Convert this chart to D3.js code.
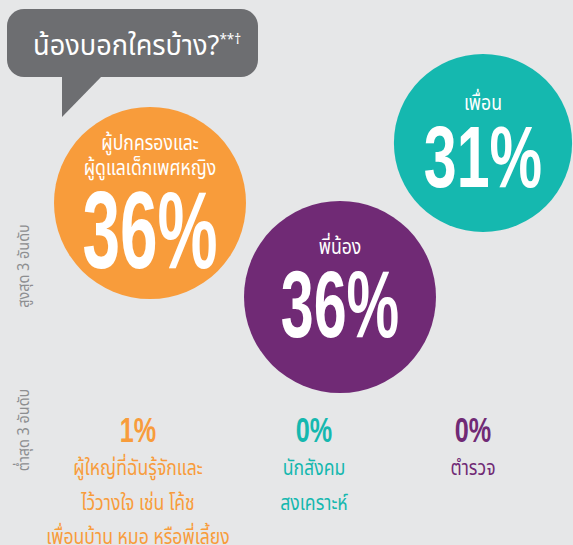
<!DOCTYPE html>
<html>
<head>
<meta charset="utf-8">
<script src="https://cdn.jsdelivr.net/npm/d3@7/dist/d3.min.js"></script>
<style>
  html, body { margin: 0; padding: 0; background: #e6e7e8; }
  svg { display: block; }
</style>
</head>
<body>
<script>
// Who the children told: top three and bottom three confidants
const topCategories = [["ผู้ปกครองและ", "ผู้ดูแลเด็กเพศหญิง"], ["พี่น้อง"], ["เพื่อน"]];
const topValues = [36, 36, 31];
const topColors = ["#f89c3b", "#702a75", "#15b8af"];

const bottomCategories = [["ผู้ใหญ่ที่ฉันรู้จักและ", "ไว้วางใจ เช่น โค้ช", "เพื่อนบ้าน หมอ หรือพี่เลี้ยง"], ["นักสังคม", "สงเคราะห์"], ["ตำรวจ"]];
const bottomValues = [1, 0, 0];
const bottomColors = ["#f89c3b", "#15b8af", "#702a75"];

const title = "น้องบอกใครบ้าง?";
const titleMark = "**†";
const rowLabels = ["สูงสุด 3 อันดับ", "ต่ำสุด 3 อันดับ"];

// Layout of the bubbles (centres) and their text offsets
const bubbleLayout = [
  { cx: 150, cy: 203, labelY: [-53, -28], numY: 65, numSize: 109, numSX: 0.62 },
  { cx: 340, cy: 297, labelY: [-43], numY: 40, numSize: 94, numSX: 0.63 },
  { cx: 483, cy: 143, labelY: [-33], numY: 44, numSize: 87, numSX: 0.68 }
];
const bottomX = [138, 314, 473];

const W = 573, H = 545;
const thai = "'Noto Sans Thai', 'Noto Sans', 'DejaVu Sans', sans-serif";
const numFont = "'Liberation Sans', Arial, sans-serif";
const thaiSX = 0.84;   // narrow Thai lettering

const svg = d3.select("body").append("svg").attr("width", W).attr("height", H);
svg.append("rect").attr("width", W).attr("height", H).attr("fill", "#e6e7e8");

// Circle area proportional to percentage
const r = d3.scaleSqrt().domain([0, 36]).range([0, 96]);

// Speech bubble
const bubble = svg.append("g");
bubble.append("rect").attr("x", 7).attr("y", 9).attr("width", 251).attr("height", 68)
  .attr("rx", 17).attr("fill", "#6d6e71");
bubble.append("path").attr("d", "M62,76 L102,76 L62,117 Z").attr("fill", "#6d6e71");
const tt = bubble.append("text").attr("transform", "translate(33,55) scale(0.97,1)")
  .attr("fill", "#fff").attr("font-family", thai).attr("font-size", 28);
tt.append("tspan").text(title);
tt.append("tspan").attr("font-size", 14).attr("dy", -11).text(titleMark);

// Top three circles
const tops = svg.append("g").selectAll("g")
  .data(topValues.map((v, i) => ({ v, label: topCategories[i], color: topColors[i], L: bubbleLayout[i] })))
  .join("g")
  .attr("transform", d => `translate(${d.L.cx},${d.L.cy})`);

tops.append("circle").attr("r", d => r(d.v)).attr("fill", d => d.color);

tops.each(function (d) {
  const g = d3.select(this);
  d.label.forEach((line, j) => {
    g.append("text").attr("transform", `translate(0,${d.L.labelY[j]}) scale(${thaiSX},1)`)
      .attr("text-anchor", "middle")
      .attr("fill", "#fff").attr("font-family", thai).attr("font-size", 21)
      .text(line);
  });
  g.append("text")
    .attr("transform", `translate(0,${d.L.numY}) scale(${d.L.numSX},1)`)
    .attr("text-anchor", "middle").attr("fill", "#fff")
    .attr("font-family", numFont).attr("font-weight", "bold")
    .attr("font-size", d.L.numSize)
    .text(d.v + "%");
});

// Row labels, rotated
rowLabels.forEach((t, i) => {
  svg.append("text")
    .attr("transform", `translate(29,${[266, 430][i]}) rotate(-90) scale(0.9,1)`)
    .attr("text-anchor", "middle").attr("fill", "#8d8e90")
    .attr("font-family", thai).attr("font-size", 16)
    .text(t);
});

// Bottom three
const bots = svg.append("g").selectAll("g")
  .data(bottomValues.map((v, i) => ({ v, label: bottomCategories[i], color: bottomColors[i], x: bottomX[i] })))
  .join("g")
  .attr("transform", d => `translate(${d.x},0)`);

bots.append("text")
  .attr("transform", "translate(0,442) scale(0.72,1)")
  .attr("text-anchor", "middle").attr("fill", d => d.color)
  .attr("font-family", numFont).attr("font-weight", "bold").attr("font-size", 35)
  .text(d => d.v + "%");

bots.each(function (d) {
  const g = d3.select(this);
  d.label.forEach((line, j) => {
    g.append("text").attr("transform", `translate(0,${475 + j * 34.5}) scale(${thaiSX},1)`)
      .attr("text-anchor", "middle")
      .attr("fill", d.color).attr("font-family", thai).attr("font-size", 21)
      .text(line);
  });
});
</script>
</body>
</html>
